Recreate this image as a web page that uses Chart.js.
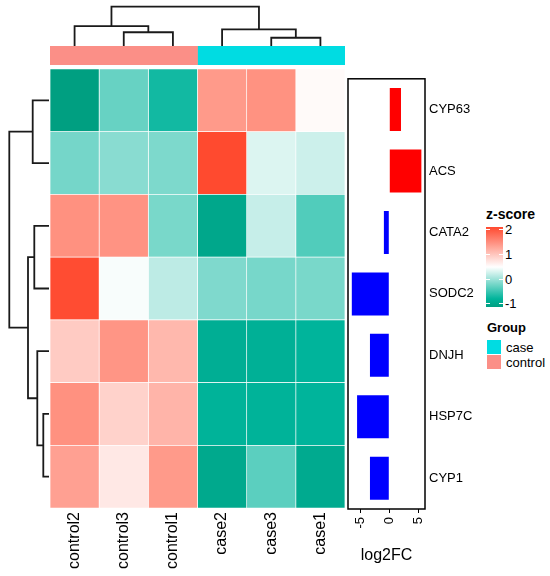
<!DOCTYPE html>
<html>
<head>
<meta charset="utf-8">
<script src="https://cdn.jsdelivr.net/npm/chart.js@4.4.1/dist/chart.umd.min.js"></script>
<style>
  body { margin: 0; background: #fff; font-family: "Liberation Sans", Arial, Helvetica, sans-serif; }
  #wrap { position: relative; width: 550px; height: 576px; overflow: hidden; }
  canvas { position: absolute; }
  .lg { position: absolute; font-size: 13px; line-height: 13px; color: #000; white-space: nowrap; }
  .bold { font-weight: bold; }
</style>
</head>
<body>
<div id="wrap">
  <canvas id="topDendro" width="295" height="46" style="left:50px;top:0"></canvas>
  <canvas id="groupBar" width="295" height="19" style="left:50px;top:46px"></canvas>
  <canvas id="heat" width="295" height="507" style="left:50px;top:69px"></canvas>
  <canvas id="rowDendro" width="50" height="439" style="left:0;top:69px"></canvas>
  <canvas id="fc" width="134" height="509" style="left:346px;top:67px"></canvas>
</div>
<script>
// ---- data ----
const genes = ['CYP63', 'ACS', 'CATA2', 'SODC2', 'DNJH', 'HSP7C', 'CYP1'];
const samples = ['control2', 'control3', 'control1', 'case2', 'case3', 'case1'];
const sampleGroup = ['control', 'control', 'control', 'case', 'case', 'case'];
const groupNames = ['case', 'control'];
const groupColors = ['#00DCE2', '#FB8F87'];

// row z-scores, one row per gene, columns in sample order
const zCYP63 = [-1.12, -0.28, -0.71, 1.39, 1.46, 0.53];
const zACS   = [-0.21, -0.11, -0.17, 2.10, 0.31, 0.23];
const zCATA2 = [1.47, 1.45, -0.19, -0.99, 0.20, -0.39];
const zSODC2 = [2.08, 0.45, 0.15, -0.16, -0.20, -0.19];
const zDNJH  = [0.95, 1.43, 1.12, -0.89, -0.86, -0.80];
const zHSP7C = [1.47, 0.89, 1.15, -0.82, -0.82, -0.80];
const zCYP1  = [1.33, 0.69, 1.39, -0.97, -0.34, -0.95];
const zScores = [zCYP63, zACS, zCATA2, zSODC2, zDNJH, zHSP7C, zCYP1];

const log2FC = [2.0, 5.48, -0.92, -6.4, -3.3, -5.5, -3.3];
const fcTicks = [-5, 0, 5];

// colour ramp for z-score
const zBreaks = [-1.13, -0.8, 0.485, 2.1];
const zBreakColors = ['#009E80', '#00B49B', '#FFFFFF', '#FF4A2F'];
const zLegendTicks = [2, 1, 0, -1];

// dendrogram merges: [left, right, height]; 'nK' refers to the K-th merge
const colMerges = [
  ['control3', 'control1', 1.43],
  ['control2', 'n0', 2.03],
  ['case3', 'case1', 0.9],
  ['case2', 'n2', 1.7],
  ['n1', 'n3', 3.9]
];
const rowMerges = [
  ['HSP7C', 'CYP1', 0.57],
  ['DNJH', 'n0', 1.17],
  ['CATA2', 'SODC2', 1.47],
  ['n2', 'n1', 2.1],
  ['CYP63', 'ACS', 1.63],
  ['n4', 'n3', 3.97]
];

Chart.defaults.font.family = '"Liberation Sans", Arial, Helvetica, sans-serif';
Chart.defaults.color = '#000';

// ---- colour helper ----
const rgbStops = zBreakColors.map(h => [1, 3, 5].map(i => parseInt(h.substr(i, 2), 16)));
function zColor(v) {
  v = Math.min(zBreaks[zBreaks.length - 1], Math.max(zBreaks[0], v));
  let k = 0;
  while (k < zBreaks.length - 2 && v > zBreaks[k + 1]) k++;
  const t = (v - zBreaks[k]) / (zBreaks[k + 1] - zBreaks[k]);
  const a = rgbStops[k], b = rgbStops[k + 1];
  return 'rgb(' + a.map((x, i) => Math.round(x + (b[i] - x) * t)).join(',') + ')';
}

// ---- dendrogram segments ----
function dendroSegments(merges, leaves) {
  const pos = {}, h = {};
  leaves.forEach((name, i) => { pos[name] = i + 0.5; h[name] = 0; });
  return merges.map(([a, b, height], i) => {
    const id = 'n' + i;
    pos[id] = (pos[a] + pos[b]) / 2;
    h[id] = height;
    return [[pos[a], h[a]], [pos[a], height], [pos[b], height], [pos[b], h[b]]];
  });
}

const baseOpts = {
  responsive: false,
  animation: false,
  events: [],
  plugins: { legend: { display: false }, tooltip: { enabled: false } }
};

function dendroDataset(pts) {
  return {
    data: pts,
    showLine: true,
    pointRadius: 0,
    borderColor: '#1a1a1a',
    borderWidth: 1.8,
    tension: 0,
    fill: false,
    clip: false
  };
}

// top (column) dendrogram
new Chart(document.getElementById('topDendro'), {
  type: 'scatter',
  data: {
    datasets: dendroSegments(colMerges, samples).map(seg =>
      dendroDataset(seg.map(([p, hh]) => ({ x: p, y: hh }))))
  },
  options: {
    ...baseOpts,
    scales: {
      x: { type: 'linear', min: 0, max: 6, display: false },
      y: { type: 'linear', min: 0.1, max: 4.55, display: false }
    }
  }
});

// left (row) dendrogram
new Chart(document.getElementById('rowDendro'), {
  type: 'scatter',
  data: {
    datasets: dendroSegments(rowMerges, genes).map(seg =>
      dendroDataset(seg.map(([p, hh]) => ({ x: hh, y: p }))))
  },
  options: {
    ...baseOpts,
    scales: {
      x: { type: 'linear', min: -0.1, max: 4.9, reverse: true, display: false },
      y: { type: 'linear', min: 0, max: 7, reverse: true, display: false }
    }
  }
});

// group annotation bar
new Chart(document.getElementById('groupBar'), {
  type: 'bar',
  data: {
    labels: ['Group'],
    datasets: samples.map((s, c) => ({
      label: s,
      data: [[c, c + 1]],
      backgroundColor: groupColors[groupNames.indexOf(sampleGroup[c])],
      borderWidth: 0,
      grouped: false,
      barPercentage: 1,
      categoryPercentage: 1
    }))
  },
  options: {
    ...baseOpts,
    indexAxis: 'y',
    scales: {
      x: { type: 'linear', min: 0, max: 6, display: false },
      y: { display: false }
    }
  }
});

// heatmap
new Chart(document.getElementById('heat'), {
  type: 'bar',
  data: {
    labels: genes,
    datasets: samples.map((s, c) => ({
      label: s,
      data: genes.map(() => [c, c + 1]),
      backgroundColor: zScores.map(row => zColor(row[c])),
      borderColor: 'rgba(255,255,255,0.85)',
      borderWidth: 0.7,
      borderSkipped: false,
      grouped: false,
      barPercentage: 1,
      categoryPercentage: 1
    }))
  },
  options: {
    ...baseOpts,
    indexAxis: 'y',
    scales: {
      y: { display: false },
      x: {
        type: 'linear', min: 0, max: 6,
        grid: { display: false, drawTicks: false },
        border: { display: false },
        afterBuildTicks: s => { s.ticks = samples.map((_, i) => ({ value: i + 0.5 })); },
        afterFit: s => { s.height = 68; },
        ticks: {
          autoSkip: false, minRotation: 90, maxRotation: 90, padding: 4,
          font: { size: 16 },
          callback: (v, i) => samples[i]
        }
      }
    }
  }
});

// log2FC bar annotation
const boxPlugin = {
  id: 'box',
  afterDatasetsDraw(chart) {
    const { ctx, chartArea: a } = chart;
    ctx.save();
    ctx.strokeStyle = '#000';
    ctx.lineWidth = 1.5;
    ctx.strokeRect(a.left, a.top, a.right - a.left, a.bottom - a.top);
    ctx.restore();
  }
};

new Chart(document.getElementById('fc'), {
  type: 'bar',
  data: {
    labels: genes,
    datasets: [{
      data: log2FC,
      backgroundColor: log2FC.map(v => v > 0 ? '#FF0000' : '#0000FF'),
      borderWidth: 0,
      barPercentage: 0.7,
      categoryPercentage: 1
    }]
  },
  options: {
    ...baseOpts,
    indexAxis: 'y',
    layout: { padding: { left: 2, top: 2 } },
    scales: {
      y: {
        position: 'right',
        grid: { display: false, drawTicks: false },
        border: { display: false },
        afterFit: s => { s.width = 55; },
        ticks: { padding: 4, font: { size: 13 } }
      },
      x: {
        type: 'linear', min: -7.05, max: 6.1,
        grid: { drawOnChartArea: false, drawTicks: true, tickLength: 4, color: '#000' },
        border: { display: false },
        afterBuildTicks: s => { s.ticks = fcTicks.map(v => ({ value: v })); },
        afterFit: s => { s.height = 67; },
        ticks: { autoSkip: false, minRotation: 90, maxRotation: 90, padding: 4, font: { size: 13 } },
        title: { display: true, text: 'log2FC', font: { size: 16 }, padding: { top: 0, bottom: 11 } }
      }
    }
  },
  plugins: [boxPlugin]
});

// ---- legends (HTML) ----
const wrap = document.getElementById('wrap');
function addDiv(cls, text, css) {
  const d = document.createElement('div');
  d.className = cls;
  if (text !== null) d.textContent = text;
  Object.assign(d.style, css);
  wrap.appendChild(d);
  return d;
}
const barTop = 227, barH = 80, barLeft = 486, barW = 17;
const zMin = zBreaks[0], zMax = zBreaks[zBreaks.length - 1];
const yOf = v => barTop + (zMax - v) / (zMax - zMin) * barH;

addDiv('lg bold', 'z-score', { left: '486px', top: '207px', fontSize: '14px', lineHeight: '14px' });
const stops = [];
for (let k = 0; k <= 40; k++) {
  const v = zMax - k * (zMax - zMin) / 40;
  stops.push(zColor(v) + ' ' + (k / 40 * 100).toFixed(1) + '%');
}
addDiv('lg', null, {
  left: barLeft + 'px', top: barTop + 'px', width: barW + 'px', height: barH + 'px',
  background: 'linear-gradient(to bottom,' + stops.join(',') + ')'
});
zLegendTicks.forEach(t => {
  const y = yOf(t);
  addDiv('lg', null, { left: barLeft + 'px', top: (y - 0.5) + 'px', width: '4px', height: '1px', background: '#fff' });
  addDiv('lg', null, { left: (barLeft + barW - 4) + 'px', top: (y - 0.5) + 'px', width: '4px', height: '1px', background: '#fff' });
  addDiv('lg', String(t), { left: '505px', top: (y - 6.5) + 'px' });
});

addDiv('lg bold', 'Group', { left: '487px', top: '321px' });
groupNames.forEach((g, i) => {
  const top = 340 + i * 15;
  addDiv('lg', null, { left: '487px', top: top + 'px', width: '14px', height: '14px', background: groupColors[i] });
  addDiv('lg', g, { left: '506px', top: (top + 1) + 'px' });
});
</script>
</body>
</html>
